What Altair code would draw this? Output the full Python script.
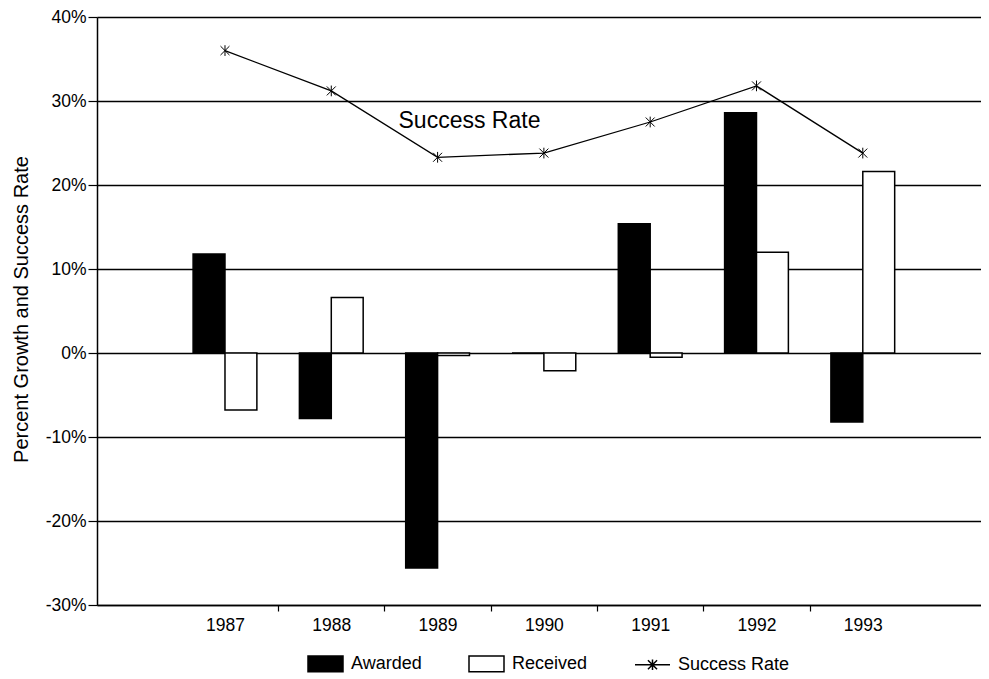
import altair as alt
import pandas as pd

FONT = "Liberation Sans"

years = [1987, 1988, 1989, 1990, 1991, 1992, 1993]
awarded = [11.8, -7.8, -25.6, 0.0, 15.4, 28.6, -8.2]
received = [-6.8, 6.6, -0.3, -2.1, -0.5, 12.0, 21.6]
success_rate = [36.0, 31.2, 23.3, 23.8, 27.5, 31.8, 23.8]
series_names = ["Awarded", "Received", "Success Rate"]
y_ticks = [-30, -20, -10, 0, 10, 20, 30, 40]
x_ticks = [1987, 1987.5, 1988, 1988.5, 1989, 1989.5, 1990, 1990.5,
           1991, 1991.5, 1992, 1992.5, 1993]
note_text = ["Success Rate"]
note_year = [1989.3]
note_value = [27.6]

bars = pd.DataFrame({
    "year": years * 2,
    "series": ["Awarded"] * len(years) + ["Received"] * len(years),
    "value": awarded + received,
})
rate = pd.DataFrame({"year": years, "value": success_rate})
note = pd.DataFrame({"year": note_year, "value": note_value, "text": note_text})
keys = pd.DataFrame({"series": series_names})

BAR_W = 0.3
xscale = alt.Scale(domain=[1985.796, 1994.112], nice=False, zero=False)
yscale = alt.Scale(domain=[-30, 40], nice=False, zero=False)

RECT = "M-1,-0.45L1,-0.45L1,0.45L-1,0.45Z"
LINE_STAR = "M-1,0L1,0M-0.26,-0.26L0.26,0.26M-0.26,0.26L0.26,-0.26M0,-0.3L0,0.3"
STAR = "M-1,-1L1,1M-1,1L1,-1M0,-1.2L0,1.2"

xaxis = alt.Axis(
    values=x_ticks,
    labelExpr="datum.value % 1 === 0 ? format(datum.value, 'd') : ''",
    tickOpacity={"condition": {"test": "datum.value % 1 !== 0", "value": 1}, "value": 0},
    labelOverlap=False, labelFlush=False,
    grid=False, domainColor="black", domainWidth=1.5,
    tickColor="black", tickSize=6, tickWidth=1.2,
    labelFont=FONT, labelFontSize=17.5, labelColor="black", labelPadding=5,
    title=None,
)
yaxis = alt.Axis(
    values=y_ticks,
    labelExpr="datum.value + '%'",
    grid=True, gridColor="black", gridWidth=1.4, gridOpacity=1,
    domainColor="black", domainWidth=1.5,
    tickColor="black", tickSize=9, tickWidth=1.2,
    labelFont=FONT, labelFontSize=17.5, labelColor="black", labelPadding=2,
    title="Percent Growth and Success Rate",
    titleFont=FONT, titleFontSize=20, titleFontWeight="normal", titleColor="black",
    titleX=-76, titleY=292, titleAngle=-90, titleAlign="center", titleBaseline="middle",
)


def make_legend():
    return alt.Legend(
        orient="none", legendX=210, legendY=628, direction="horizontal", title=None,
        symbolSize=1225, symbolStrokeColor="black", symbolStrokeWidth=1.5,
        labelFont=FONT, labelFontSize=18, labelColor="black", labelOffset=7,
        columnPadding=44, padding=0,
    )


fill_scale = alt.Scale(domain=series_names, range=["black", "white", "white"])
shape_scale = alt.Scale(domain=series_names, range=[RECT, RECT, LINE_STAR])

X = lambda f: alt.X(f, scale=xscale, axis=xaxis, title=None)
Y = lambda f: alt.Y(f, scale=yscale, axis=yaxis, title="Percent Growth and Success Rate")

bar_layer = alt.Chart(bars).transform_calculate(
    x0=f"datum.series === 'Awarded' ? datum.year - {BAR_W} : datum.year",
    x1=f"datum.series === 'Awarded' ? datum.year : datum.year + {BAR_W}",
).mark_bar(stroke="black", strokeWidth=1.5).encode(
    x=X("x0:Q"),
    x2="x1:Q",
    y=Y("value:Q"),
    y2=alt.datum(0),
    fill=alt.Fill("series:N", scale=fill_scale, legend=make_legend()),
)

line_layer = alt.Chart(rate).mark_line(color="black", strokeWidth=1.3).encode(
    x=X("year:Q"), y=Y("value:Q"),
)
point_layer = alt.Chart(rate).mark_point(
    shape=STAR, size=80, filled=False, stroke="black", strokeWidth=1, opacity=1
).encode(
    x=X("year:Q"), y=Y("value:Q"),
)
note_layer = alt.Chart(note).mark_text(
    font=FONT, fontSize=23, color="black", align="center", baseline="middle"
).encode(
    x=X("year:Q"), y=Y("value:Q"), text="text:N",
)
key_layer = alt.Chart(keys).transform_filter("false").mark_point(
    filled=True, stroke="black", strokeWidth=1.5, opacity=1
).encode(
    fill=alt.Fill("series:N", scale=fill_scale, legend=make_legend()),
    shape=alt.Shape("series:N", scale=shape_scale, legend=make_legend()),
)

chart = alt.layer(bar_layer, line_layer, point_layer, note_layer, key_layer).properties(
    width=884, height=588,
    autosize=alt.AutoSizeParams(type="none"),
    padding={"left": 89, "top": 9, "right": 0, "bottom": 72},
    background="white",
).configure_view(stroke=None)

chart.save("out.html", embed_options={"renderer": "svg", "actions": False})
